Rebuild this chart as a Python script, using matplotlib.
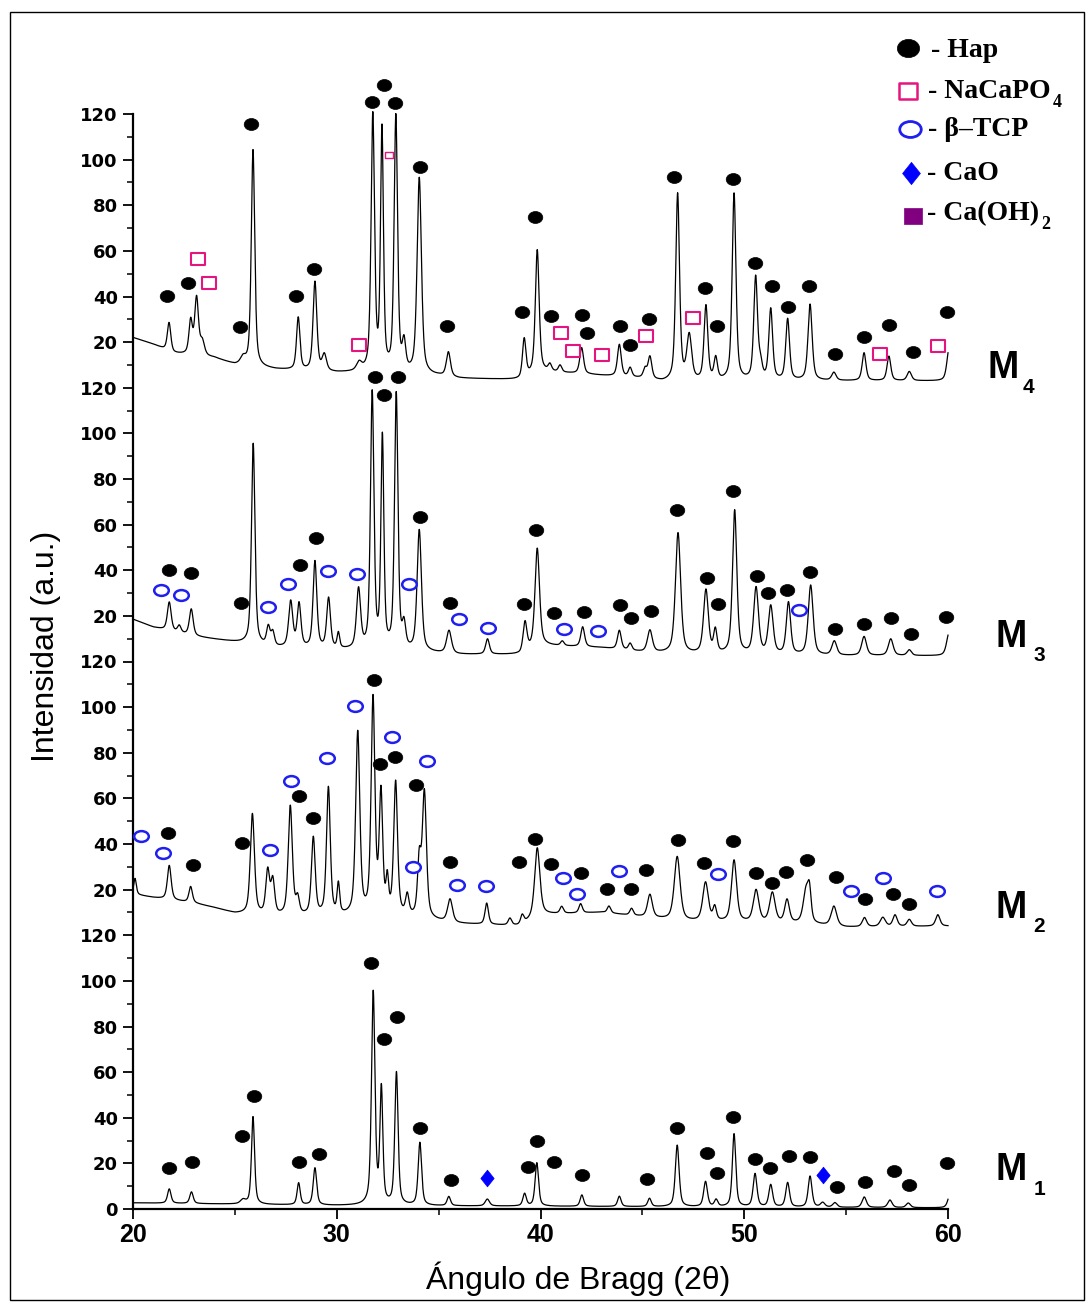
import numpy as np
import matplotlib
matplotlib.use("Agg")
import matplotlib.pyplot as plt
from matplotlib.path import Path
from matplotlib.patches import Rectangle

# ---------------- data ----------------
two_theta_range = (20, 60)
panel_offset = 120
sample_names = ["M1", "M2", "M3", "M4"]

# M1 : peaks (2theta, height above background, FWHM)
m1_pos = [21.78, 22.87, 25.4, 25.89, 28.13, 28.93, 31.79, 32.19, 32.93, 34.08, 35.5, 37.39,
          39.22, 39.82, 42.03, 43.87, 45.35, 46.71, 48.1, 48.62, 49.5, 50.53, 51.3, 52.13,
          53.23, 53.85, 54.45, 55.89, 57.15, 58.05, 60.1]
m1_h = [6.3, 5.1, 1.8, 38.4, 9.6, 16.3, 93, 50, 58, 27.5, 4, 3, 5.4, 19, 5, 4.5, 3.6, 27, 11,
        3, 32, 14.5, 9.7, 10.7, 13.6, 2, 2, 4.6, 3.3, 2, 6]
m1_w = [0.2, 0.2, 0.3, 0.18, 0.18, 0.2, 0.2, 0.17, 0.19, 0.2, 0.2, 0.25, 0.2, 0.2, 0.2, 0.2,
        0.2, 0.22, 0.22, 0.2, 0.2, 0.22, 0.22, 0.22, 0.22, 0.25, 0.25, 0.25, 0.25, 0.25, 0.25]
m1_bg_x = [20, 30, 40, 50, 60]
m1_bg_y = [2.7, 1.5, 1.2, 0.8, 0.5]

# M2
m2_pos = [20.1, 21.78, 22.83, 25.86, 26.61, 26.86, 27.72, 28.08, 28.85, 29.59, 30.08, 31.03,
          31.78, 32.17, 32.48, 32.89, 33.46, 34.05, 34.3, 35.56, 37.36, 38.5, 39.1, 39.84,
          41.04, 41.97, 43.36, 44.47, 45.37, 46.71, 48.1, 48.55, 49.5, 50.58, 51.38, 52.1,
          53.03, 53.2, 54.4, 55.9, 56.8, 57.4, 58.1, 59.5]
m2_h = [7, 15, 7, 44, 19, 15, 48, 7, 34, 56, 13, 80, 94, 52, 14, 58, 8.7, 24, 55, 10, 9.3, 3,
        4, 30, 3, 4, 3, 3, 10, 28, 17, 6, 27, 14, 13, 10, 14, 12, 8.6, 4, 4, 5, 3, 5]
m2_w = [0.15, 0.22, 0.2, 0.24, 0.22, 0.22, 0.24, 0.2, 0.22, 0.22, 0.15, 0.24, 0.22, 0.2, 0.15,
        0.22, 0.2, 0.2, 0.24, 0.28, 0.2, 0.2, 0.2, 0.3, 0.2, 0.2, 0.2, 0.2, 0.28, 0.34, 0.32,
        0.2, 0.3, 0.32, 0.32, 0.27, 0.32, 0.2, 0.32, 0.25, 0.3, 0.25, 0.25, 0.25]
m2_bg_x = [20, 21, 23, 24, 25, 27, 30, 33, 35, 36, 39, 40, 43, 45, 47, 53, 55, 60]
m2_bg_y = [18, 16.5, 14, 12, 9.5, 8, 8, 8, 6, 5, 4, 9, 10, 8, 6, 5, 3.5, 4]

# M3
m3_pos = [21.78, 22.27, 22.86, 25.9, 26.64, 26.86, 27.74, 28.15, 28.93, 29.6, 30.08, 31.07,
          31.74, 32.24, 32.92, 33.3, 34.05, 35.51, 37.4, 39.24, 39.84, 41.07, 42.07, 43.87,
          44.4, 45.37, 46.75, 48.12, 48.58, 49.53, 50.58, 51.3, 52.17, 53.26, 54.42, 55.88,
          57.19, 58.1, 60.05]
m3_h = [12.5, 3, 11.6, 88, 8, 6, 20, 19, 38, 22, 6.7, 26, 112, 92, 112, 10, 53, 10, 6.7,
        12.8, 43, 2, 8.7, 8.3, 3, 9.6, 53, 27.9, 10, 63, 29, 21, 22.8, 30.6, 6.2, 8.3, 7.3,
        2.5, 10]
m3_w = [0.22, 0.2, 0.22, 0.2, 0.2, 0.2, 0.24, 0.22, 0.22, 0.22, 0.15, 0.24, 0.2, 0.17, 0.2,
        0.2, 0.25, 0.28, 0.22, 0.22, 0.26, 0.2, 0.22, 0.22, 0.2, 0.28, 0.3, 0.28, 0.2, 0.25,
        0.28, 0.28, 0.25, 0.28, 0.28, 0.28, 0.28, 0.25, 0.28]
m3_bg_x = [20, 21, 23, 25, 27, 30, 34, 36, 39, 40, 43, 45, 47, 54, 60]
m3_bg_y = [18.5, 15, 11, 8.5, 6, 5, 4, 3, 3, 7, 6, 4, 3, 2.5, 2.5]

# M4
m4_pos = [21.77, 22.83, 23.12, 23.4, 25.4, 25.89, 28.11, 28.93, 29.39, 31.1, 31.77, 32.22,
          32.9, 33.3, 34.05, 35.48, 39.2, 39.84, 40.46, 40.96, 42.02, 43.87, 44.4, 45.13,
          45.37, 46.73, 47.3, 48.12, 48.6, 49.5, 50.56, 50.8, 51.3, 52.13, 53.23, 54.4,
          55.88, 57.1, 58.1, 60.05]
m4_h = [12.5, 14.6, 25, 6, 3, 95, 23, 39, 7, 3.5, 112, 105, 112, 12, 86, 10.7, 16.8, 53.7, 3,
        3, 11.4, 14, 4, 4, 9.7, 82, 19.5, 32.6, 9.5, 82, 45, 6, 31, 26.8, 33.4, 3.5, 12.2,
        10.7, 4, 14]
m4_w = [0.2, 0.2, 0.22, 0.25, 0.3, 0.2, 0.2, 0.22, 0.25, 0.3, 0.2, 0.17, 0.2, 0.2, 0.25,
        0.24, 0.2, 0.22, 0.2, 0.2, 0.22, 0.22, 0.2, 0.2, 0.22, 0.22, 0.28, 0.22, 0.2, 0.22,
        0.22, 0.2, 0.22, 0.22, 0.24, 0.25, 0.22, 0.22, 0.25, 0.25]
m4_bg_x = [20, 21, 22, 24, 25, 27, 30, 31, 35, 36, 39, 40, 42, 45, 46, 54, 60]
m4_bg_y = [22, 19, 15, 13, 10, 8, 6.5, 6.5, 5, 4, 3.5, 7, 6, 4, 2.5, 3, 3]

# phase markers (2theta, intensity within panel)
hap_m1_x = [21.77, 22.9, 25.35, 25.92, 28.16, 29.11, 31.67, 32.34, 32.96, 34.1, 35.62, 39.37,
            39.81, 40.66, 42.04, 45.21, 46.68, 48.18, 48.67, 49.43, 50.53, 51.27, 52.21,
            53.24, 54.55, 55.91, 57.36, 58.1, 59.93]
hap_m1_y = [17.8, 20.7, 32.1, 49.6, 20.7, 23.9, 108, 74.7, 84, 35.7, 12.7, 18.2, 29.9, 20.7,
            15, 13, 35.3, 24.4, 15.9, 40.3, 21.9, 17.9, 23.2, 22.8, 9.8, 11.7, 16.8, 10.5, 20]
cao_m1_x = [37.39, 53.88]
cao_m1_y = [13.4, 15]

hap_m2_x = [21.7, 22.94, 25.35, 28.16, 28.85, 31.81, 32.14, 32.86, 33.89, 35.56, 38.96, 39.73,
            40.51, 41.99, 43.25, 44.44, 45.18, 46.73, 48.02, 49.43, 50.59, 51.38, 52.03,
            53.08, 54.48, 55.94, 57.3, 58.1]
hap_m2_y = [45, 30.9, 40.3, 60.9, 51.6, 111.9, 75, 78.2, 65.7, 32, 32, 42.1, 31.3, 27.5, 20.2,
            20.2, 28.7, 41.6, 31.7, 41.3, 27.5, 23, 27.9, 33.2, 25.4, 16.1, 17.9, 13.6]
tcp_m2_x = [20.38, 21.49, 26.74, 27.77, 29.5, 30.91, 32.7, 33.73, 34.41, 35.89, 37.33, 41.08,
            41.77, 43.85, 48.72, 55.23, 56.81, 59.47]
tcp_m2_y = [43.5, 35.9, 37.5, 67.4, 77.5, 100.3, 86.7, 29.8, 76.5, 22.1, 21.7, 24.9, 18, 28.2,
            26.9, 19.6, 25.2, 19.3]

hap_m3_x = [21.77, 22.85, 25.28, 28.21, 29.0, 31.88, 32.34, 33.02, 34.1, 35.56, 39.21, 39.76,
            40.66, 42.13, 43.9, 44.42, 45.42, 46.68, 48.18, 48.72, 49.43, 50.63, 51.19, 52.1,
            53.24, 54.44, 55.86, 57.22, 58.18, 59.9]
hap_m3_y = [40, 38.8, 25.8, 42.4, 54.1, 124.7, 117, 124.7, 63.4, 25.8, 25.3, 57.7, 21.3, 21.8,
            24.9, 18.9, 22.1, 66.3, 36.7, 25.3, 74.7, 37.5, 30.2, 31.3, 39.1, 14.4, 16.3,
            19.2, 11.9, 19.5]
tcp_m3_x = [21.36, 22.36, 26.63, 27.59, 29.57, 30.98, 33.56, 36.0, 37.42, 41.17, 42.84, 52.7]
tcp_m3_y = [31.2, 29.1, 23.9, 34.1, 39.6, 38.2, 33.8, 18.6, 14.6, 14.1, 13.4, 22.4]

hap_m4_x = [21.65, 22.68, 25.25, 25.77, 28.0, 28.9, 31.71, 32.34, 32.86, 34.1, 35.41, 39.07,
            39.73, 40.51, 42.02, 42.3, 43.9, 44.39, 45.34, 46.57, 48.07, 48.64, 49.43, 50.53,
            51.38, 52.13, 53.19, 54.45, 55.86, 57.11, 58.27, 59.93]
hap_m4_y = [40.1, 46, 26.7, 115.4, 40.1, 51.9, 125.3, 132.6, 125, 96.9, 27.2, 33.3, 74.7,
            31.3, 32, 23.9, 27.2, 18.6, 30.1, 92.5, 43.9, 26.9, 91.3, 54.9, 44.7, 35.6, 44.7,
            14.6, 22.4, 27.6, 15.8, 33]
nacapo_m4_x = [23.17, 23.74, 31.11, 41.02, 41.6, 43.0, 45.18, 47.48, 56.66, 59.53]
nacapo_m4_y = [56.3, 45.7, 18.8, 24.1, 15.9, 14.5, 22.9, 30.7, 14.8, 18.1]
nacapo_small_m4_x = [32.56]
nacapo_small_m4_y = [102.1]

y_major_labels = ["0", "20", "40", "60", "80", "100", "120"] + ["20", "40", "60", "80", "100", "120"] * 3
x_major = [20, 30, 40, 50, 60]
legend_labels = ["- Hap", "- NaCaPO", "- \u03b2\u2013TCP", "- CaO", "- Ca(OH)"]
legend_subscripts = ["", "4", "", "", "2"]

# ---------------- drawing ----------------
W, H = 1086, 1302
fig = plt.figure(figsize=(W / 100, H / 100), dpi=100)
fig.patch.set_facecolor("white")


def fx(px):
    return px / W


def fy(py):
    return 1 - py / H


ax = fig.add_axes([fx(133), fy(1209), 815 / W, (1209 - 114) / H])
ax.set_xlim(*two_theta_range)
ax.set_ylim(0, 4 * panel_offset)

x = np.linspace(two_theta_range[0], two_theta_range[1], 4001)


def profile(pos, h, w, bx, by):
    y = np.interp(x, bx, by)
    for p, hh, ww in zip(pos, h, w):
        d = (x - p) / (ww / 2)
        y = y + hh * (0.55 / (1 + d * d) + 0.45 * np.exp(-np.log(2) * d * d))
    return np.minimum(y, 123)


samples = [
    (m1_pos, m1_h, m1_w, m1_bg_x, m1_bg_y),
    (m2_pos, m2_h, m2_w, m2_bg_x, m2_bg_y),
    (m3_pos, m3_h, m3_w, m3_bg_x, m3_bg_y),
    (m4_pos, m4_h, m4_w, m4_bg_x, m4_bg_y),
]
for i, s in enumerate(samples):
    ax.plot(x, profile(*s) + i * panel_offset, color="black", lw=0.9, zorder=2,
            clip_on=False)

# marker shapes
ellipse = Path.unit_circle().transformed(matplotlib.transforms.Affine2D().scale(1, 0.82))
ellipse_t = Path.unit_circle().transformed(matplotlib.transforms.Affine2D().scale(1, 0.74))
rect = Path([(-1, -0.86), (1, -0.86), (1, 0.86), (-1, 0.86), (-1, -0.86)],
            [Path.MOVETO, Path.LINETO, Path.LINETO, Path.LINETO, Path.CLOSEPOLY])
diamond = Path([(0, -1), (0.8, 0), (0, 1), (-0.8, 0), (0, -1)],
               [Path.MOVETO, Path.LINETO, Path.LINETO, Path.LINETO, Path.CLOSEPOLY])

pink = "#E5157F"
blue_ring = "#1F1FEF"

hap_style = dict(ls="none", marker=ellipse, ms=10.5, mfc="black", mec="black", mew=0.5,
                 clip_on=False, zorder=4)
tcp_style = dict(ls="none", marker=ellipse_t, ms=10.5, mfc="white", mec=blue_ring, mew=1.8,
                 clip_on=False, zorder=4)
sq_style = dict(ls="none", marker=rect, ms=9.5, mfc="none", mec=pink, mew=1.5,
                clip_on=False, zorder=4)
dia_style = dict(ls="none", marker=diamond, ms=12, mfc="#0000FF", mec="#0000FF", mew=0.5,
                 clip_on=False, zorder=4)

for hx, hy, off in [(hap_m1_x, hap_m1_y, 0), (hap_m2_x, hap_m2_y, 1),
                    (hap_m3_x, hap_m3_y, 2), (hap_m4_x, hap_m4_y, 3)]:
    ax.plot(hx, np.array(hy) + off * panel_offset, **hap_style)
for tx, ty, off in [(tcp_m2_x, tcp_m2_y, 1), (tcp_m3_x, tcp_m3_y, 2)]:
    ax.plot(tx, np.array(ty) + off * panel_offset, **tcp_style)
ax.plot(cao_m1_x, cao_m1_y, **dia_style)
ax.plot(nacapo_m4_x, np.array(nacapo_m4_y) + 3 * panel_offset, **sq_style)
small_sq = dict(sq_style)
small_sq.update(ms=5.5, mew=1.0)
ax.plot(nacapo_small_m4_x, np.array(nacapo_small_m4_y) + 3 * panel_offset, **small_sq)

# axes styling
for sp in ["top", "right"]:
    ax.spines[sp].set_visible(False)
for sp in ["left", "bottom"]:
    ax.spines[sp].set_linewidth(1.6)

y_major = [0] + [p * panel_offset + v for p in range(4) for v in range(20, 121, 20)]
ax.set_yticks(y_major)
ax.set_yticklabels(y_major_labels, fontweight="bold", fontfamily="DejaVu Sans", fontsize=13)
ax.set_yticks(np.arange(0, 4 * panel_offset + 1, 10), minor=True)
ax.set_xticks(x_major)
ax.set_xticklabels([str(v) for v in x_major], fontweight="bold",
                   fontfamily=["Liberation Sans Narrow", "Liberation Sans"], fontsize=18)
ax.set_xticks([25, 35, 45, 55], minor=True)
ax.tick_params(axis="both", which="major", direction="out", length=7, width=1.3)
ax.tick_params(axis="both", which="minor", direction="out", length=4, width=1.1)
ax.tick_params(axis="y", which="major", pad=4)
ax.tick_params(axis="x", which="major", pad=3)

# axis titles
fig.text(fx(46), fy(646), "Intensidad (a.u.)", rotation=90, ha="center", va="center",
         fontsize=23, fontfamily="Liberation Sans")
fig.text(fx(578), fy(1279), "\u00c1ngulo de Bragg (2\u03b8)", ha="center", va="center",
         fontsize=23, fontfamily="Liberation Sans")

# sample labels
lab_pos = [(996, 1180, 1034, 1195, "1"), (996, 918, 1033, 932, "2"),
           (996, 647, 1033, 661, "3"), (988, 378, 1023, 393, "4")]
for mx, my, sx, sy, sub in lab_pos:
    fig.text(fx(mx), fy(my), "M", ha="left", va="baseline", fontsize=27,
             fontweight="bold", fontfamily="Liberation Sans")
    fig.text(fx(sx), fy(sy), sub, ha="left", va="baseline", fontsize=15,
             fontweight="bold", fontfamily="Liberation Sans")

# legend (drawn manually)
leg_mark_y = [48, 91, 129, 173, 216]
leg_mark_x = [908, 908, 910, 911, 913]
leg_styles = [
    dict(marker=ellipse, ms=16, mfc="black", mec="black", mew=0.5),
    dict(marker=rect, ms=13.5, mfc="none", mec=pink, mew=1.8),
    dict(marker=ellipse_t, ms=15.5, mfc="white", mec=blue_ring, mew=2.0),
    dict(marker=diamond, ms=16, mfc="#0000FF", mec="#0000FF", mew=0.5),
    dict(marker=Path([(-1, -0.85), (1, -0.85), (1, 0.85), (-1, 0.85), (-1, -0.85)],
                     [Path.MOVETO, Path.LINETO, Path.LINETO, Path.LINETO, Path.CLOSEPOLY]),
         ms=13, mfc="#800080", mec="#800080", mew=0.5),
]
for mx, my, st in zip(leg_mark_x, leg_mark_y, leg_styles):
    ax.plot([fx(mx)], [fy(my)], ls="none", transform=fig.transFigure, clip_on=False,
            zorder=5, **st)

leg_text_x = [931, 928, 928, 927, 927]
leg_text_base = [57, 98, 136, 180, 220]
serif = ["Liberation Serif", "DejaVu Serif"]
leg_texts = []
for tx, ty, t in zip(leg_text_x, leg_text_base, legend_labels):
    leg_texts.append(fig.text(fx(tx), fy(ty), t, ha="left", va="baseline", fontsize=20,
                              fontweight="bold", fontfamily=serif))

fig.canvas.draw()
renderer = fig.canvas.get_renderer()
for t, sub, ty in zip(leg_texts, legend_subscripts, leg_text_base):
    if sub:
        bb = t.get_window_extent(renderer)
        fig.text(bb.x1 / W + 2 / W, fy(ty + 9), sub, ha="left", va="baseline",
                 fontsize=13, fontweight="bold", fontfamily=serif)

# outer frame
fig.add_artist(Rectangle((fx(10), fy(1300)), (1084 - 10) / W, (1300 - 12) / H,
                         transform=fig.transFigure, fill=False, edgecolor="black", lw=1.0))

fig.savefig("out.png", dpi=100, facecolor="white")
